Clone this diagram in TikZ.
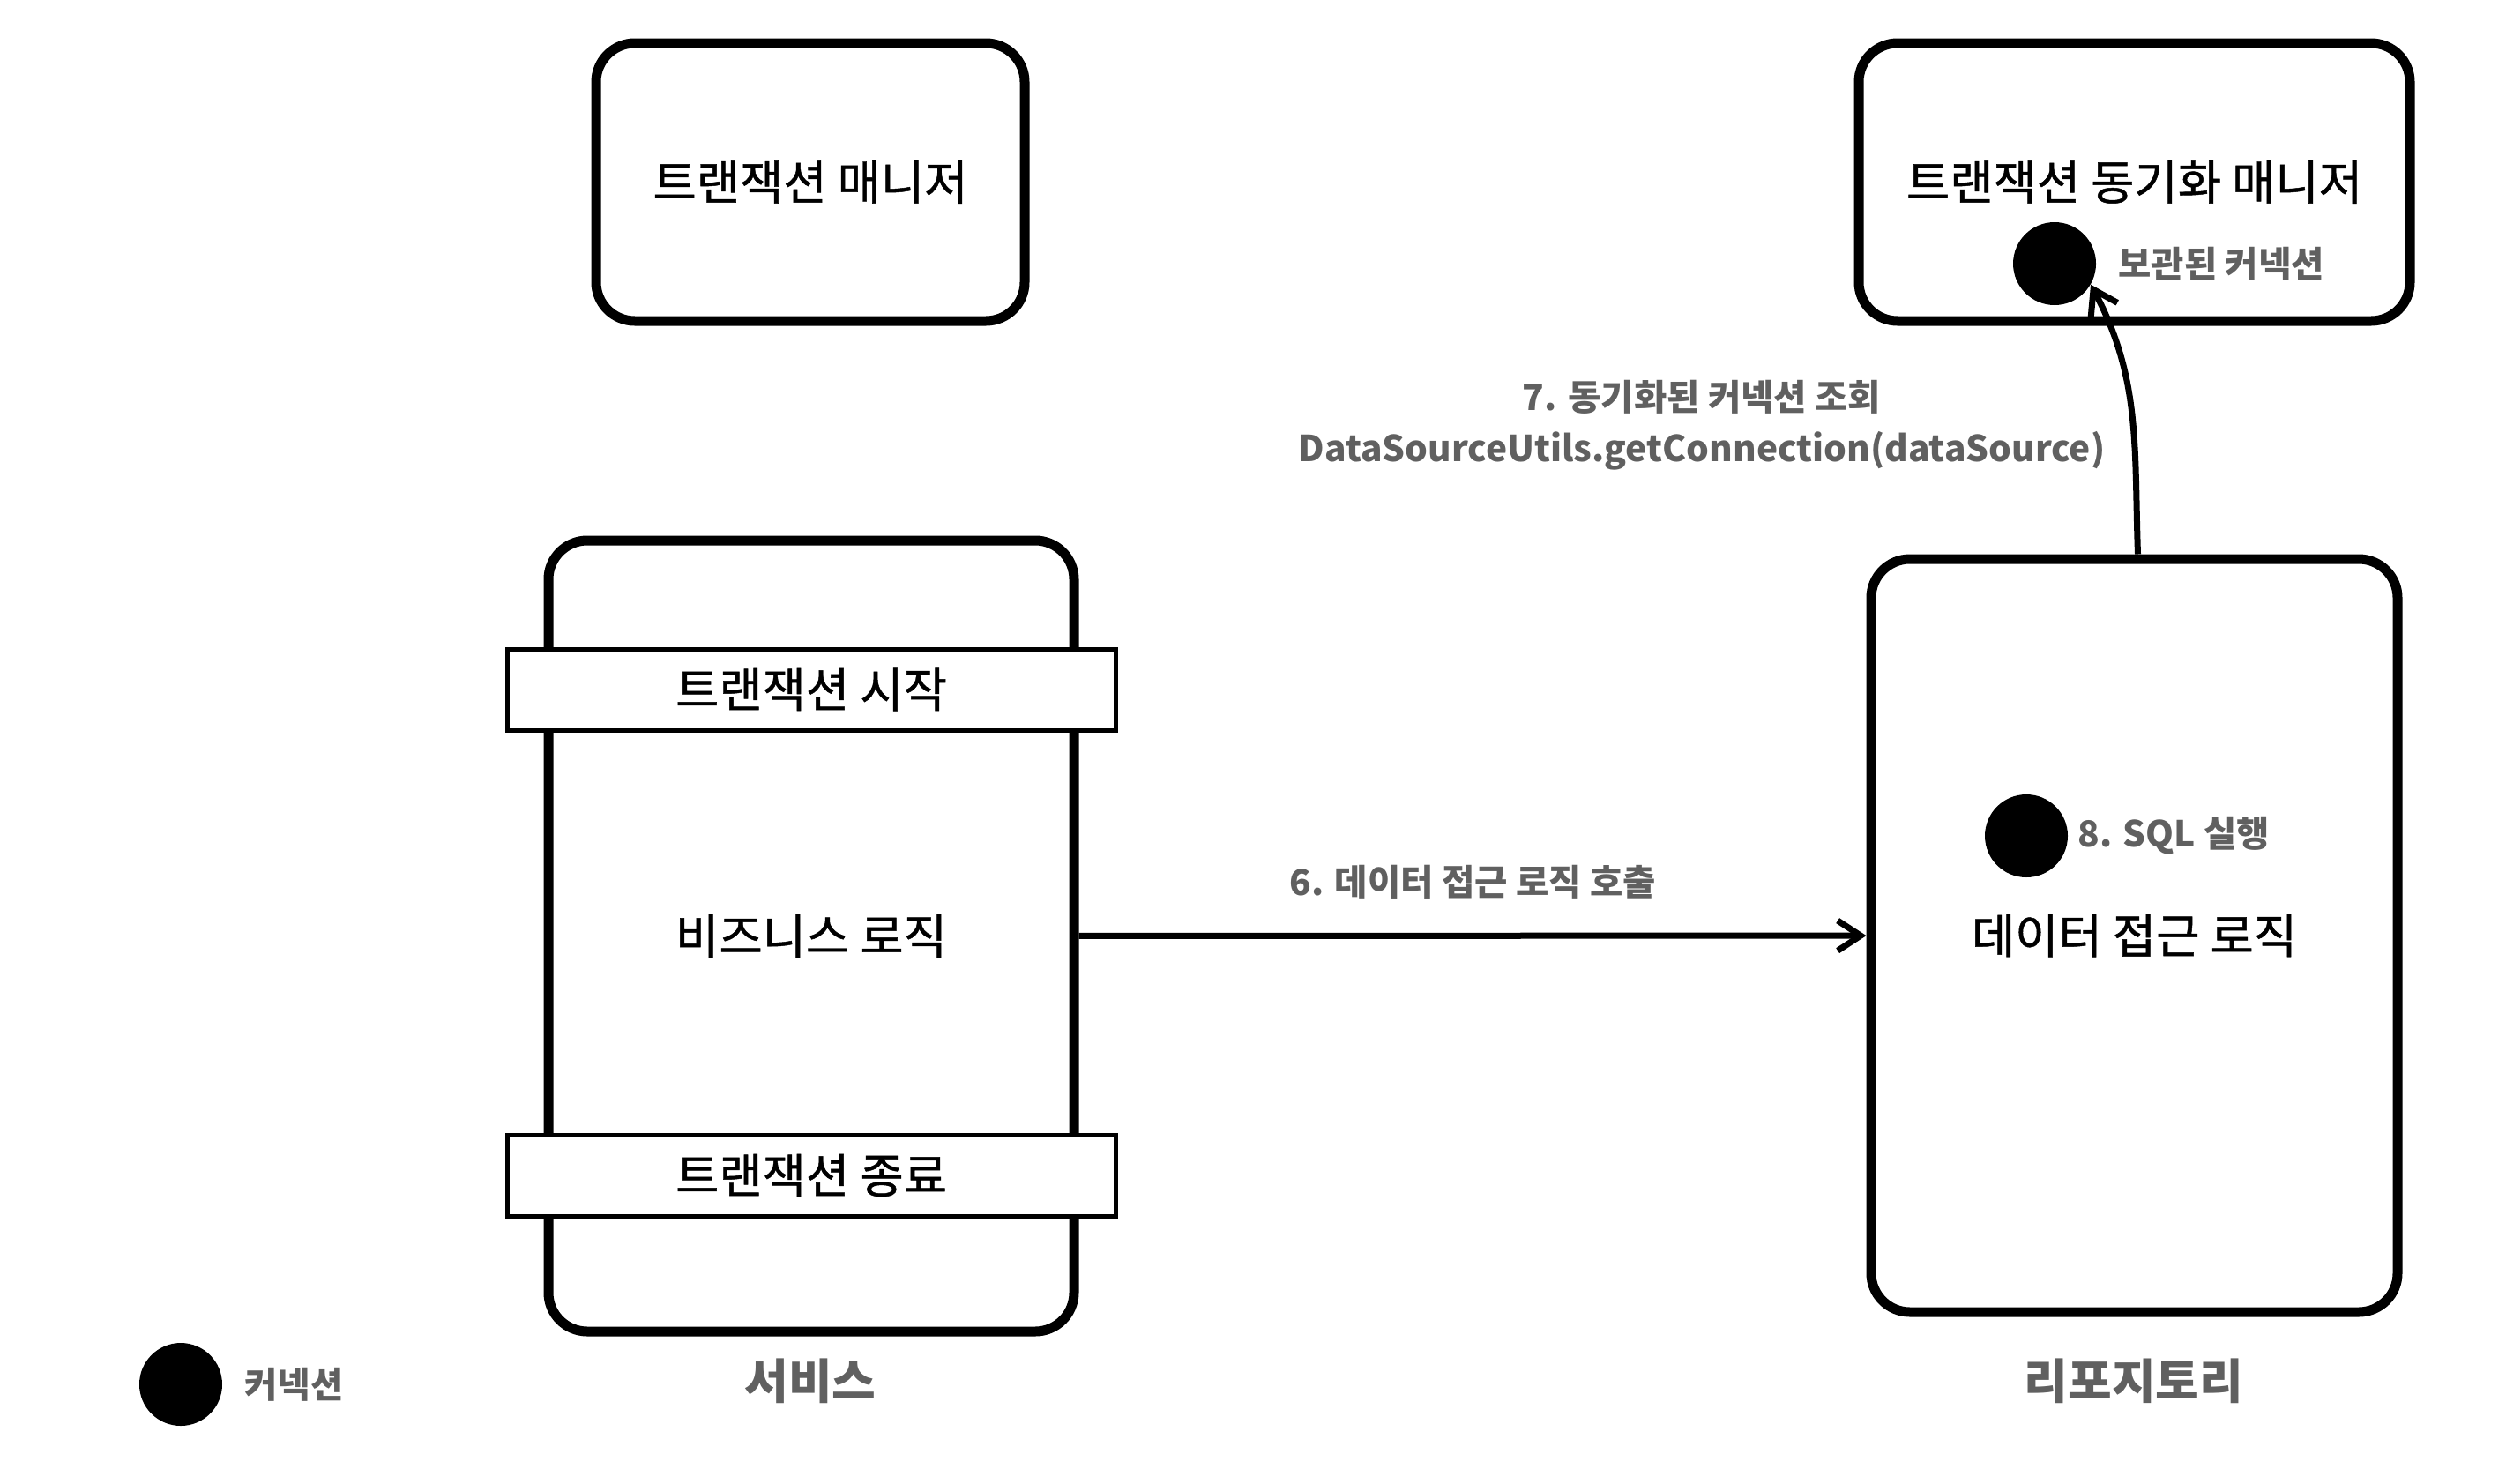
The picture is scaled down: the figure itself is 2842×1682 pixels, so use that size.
\documentclass[tikz,border=0pt]{standalone}
\usepackage{fontspec}
\setmainfont{Noto Sans CJK KR}
\newfontfamily\krmain[FakeBold=0.9]{Noto Sans CJK KR}
\usetikzlibrary{arrows.meta,positioning}
\definecolor{lblgray}{HTML}{606060}

\begin{document}
\begin{tikzpicture}[x=0.5pt,y=-0.5pt,
  box/.style={draw,line width=5.5pt,rounded corners=22pt,font=\krmain\fontsize{26.8}{32}\selectfont},
  bar/.style={draw,line width=2.5pt,fill=white,minimum width=345pt,minimum height=46pt,font=\krmain\fontsize{26.8}{32}\selectfont},
  conn/.style={circle,fill=black,minimum size=47pt,inner sep=0pt},
  lbl/.style={text=lblgray,font=\bfseries\fontsize{20.3}{29}\selectfont},
  tag/.style={text=lblgray,font=\bfseries\fontsize{27}{32}\selectfont},
  arr/.style={line width=3.5pt,-{Straight Barb[length=13pt,width=17pt]}}]
\useasboundingbox (0,0) rectangle (2842,1682);
% managers
\node[box,minimum width=243pt,minimum height=157.5pt] (txm) at (919,206.5) {트랜잭션 매니저};
\node[box,minimum width=312.5pt,minimum height=157.5pt] (syncm) at (2420.5,206.5) {트랜잭션 동기화 매니저};
% service
\node[box,minimum width=298pt,minimum height=448.5pt] (svc) at (920,1061.5) {비즈니스 로직};
\node[bar] (txbegin) at (920,782) {트랜잭션 시작};
\node[bar] (txend) at (920,1333) {트랜잭션 종료};
% repository
\node[box,minimum width=298.5pt,minimum height=427pt] (repo) at (2420.5,1061) {데이터 접근 로직};
% connections
\node[conn] (cstore) at (2330,299) {};
\node[conn] (csql) at (2298,948) {};
\node[conn] (clegend) at (205,1570) {};
\node[lbl,right=9pt of cstore] (cstorelbl) {보관된 커넥션};
\node[lbl,right=2pt of csql] (csqllbl) {8. SQL 실행};
\node[lbl,right=9pt of clegend] (clegendlbl) {커넥션};
\node[tag] (svctag) at (919,1566) {서비스};
\node[tag] (repotag) at (2420,1566) {리포지토리};
% calls
\draw[arr] (svc) -- node[lbl,above=16pt] (calllbl) {6. 데이터 접근 로직 호출} (repo);
\draw[arr] ([xshift=2pt]repo.north) to[out=92,in=-62] (cstore.-30);
\node[lbl,align=center] (lookuplbl) at (1930,482) {7. 동기화된 커넥션 조회\\DataSourceUtils.getConnection(dataSource)};
\end{tikzpicture}
\end{document}
